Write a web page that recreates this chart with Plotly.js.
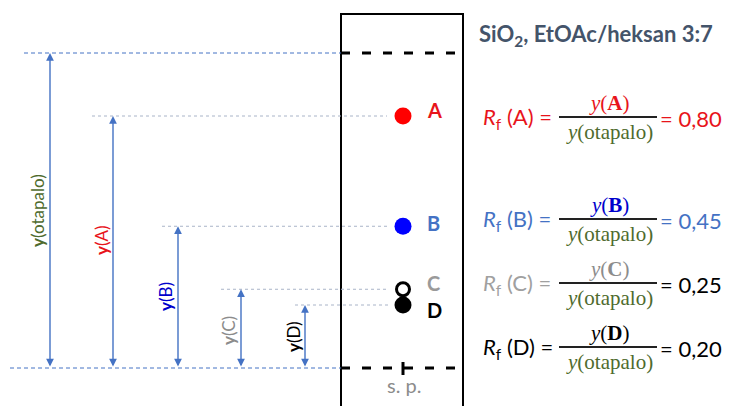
<!DOCTYPE html>
<html>
<head>
<meta charset="utf-8">
<script src="https://cdn.plot.ly/plotly-3.0.1.min.js"></script>
<style>html,body{margin:0;padding:0;background:#fff;}#chart{width:729px;height:406px;}</style>
</head>
<body>
<div id="chart"></div>
<script>
// ---- data ----
const spots = ['A', 'B', 'C', 'D'];
const rfValues = [0.80, 0.45, 0.25, 0.20];
const rfText = ['0,80', '0,45', '0,25', '0,20'];
const frontRf = 1.0;      // solvent front (otapalo)
const startRf = 0.0;      // start line (s. p.)
const titleText = 'SiO<sub>2</sub>, EtOAc/heksan 3:7';
const heightLabels = ['<b>y</b>(A)', '<b>y</b>(B)', '<b>y</b>(C)', '<b>y</b>(D)'];
const frontLabel = '<b>y</b>(otapalo)';
const startLabel = 's. p.';

// ---- styles ----
const spotColors = ['#FF0000', '#0000FF', '#FFFFFF', '#000000'];
const spotLine = ['#FF0000', '#0000FF', '#000000', '#000000'];
const spotLabelColors = ['#E8141B', '#4472C4', '#9A9A9A', '#000000'];
const heightColors = ['#E8141B', '#0000CC', '#8C8C8C', '#000000'];
const rowLabelColors = ['#E8141B', '#4472C4', '#A0A0A0', '#000000'];
const rowValueColors = ['#E8141B', '#4472C4', '#000000', '#000000'];
const numColors = ['#E8141B', '#0000CC', '#8C8C8C', '#000000'];
const green = '#4F6B2E';
const arrowBlue = '#4472C4';
const rowLineY = [117, 219, 283, 347];    // pixel positions (layout)
const arrowX = [113, 178, 241, 305];
const guideStart = [92, 162, 221, 295];
const guideEnd = [387, 387, 389, 389];
const labelY = [240, 297, 331, 337];
const labelX = [101, 165, 228, 293];
const spotLabelDY = [-6, -3, -6, 5];

// y axis in Rf units: Rf 0 at pixel 368, Rf 1 at pixel 53
const y0px = 368, y1px = 53;
const perRf = y0px - y1px;
const yRange = [(y0px - 406) / perRf, y0px / perRf];
const px2rf = p => (y0px - p) / perRf;

const plateX = 403;
const traces = [{
  type: 'scatter', mode: 'markers',
  x: spots.map(() => plateX), y: rfValues,
  marker: {size: spots.map((s, i) => i === 2 ? 13 : 17), color: spotColors, opacity: 1,
           line: {color: spotLine, width: spots.map((s, i) => i === 2 ? 3 : 0)}},
  hoverinfo: 'skip', showlegend: false, xaxis: 'x', yaxis: 'y'
}];

const shapes = [];
const annotations = [];

// plate
shapes.push({type: 'rect', xref: 'x', yref: 'y2', x0: 341, x1: 463, y0: 14, y1: 430,
  line: {color: '#000', width: 2}, fillcolor: 'rgba(0,0,0,0)'});
// front & start dashed lines on plate
[frontRf, startRf].forEach(v => shapes.push({type: 'line', xref: 'x', yref: 'y', x0: 341, x1: 463,
  y0: v, y1: v, line: {color: '#000', width: 3, dash: '9px,12px'}}));
// start tick
shapes.push({type: 'line', xref: 'x', yref: 'y2', x0: plateX, x1: plateX, y0: 362, y1: 375,
  line: {color: '#000', width: 3}});
// blue dashed guides on left
shapes.push({type: 'line', xref: 'x', yref: 'y', x0: 24, x1: 341, y0: frontRf, y1: frontRf,
  line: {color: arrowBlue, width: 1, dash: '4px,3px'}});
shapes.push({type: 'line', xref: 'x', yref: 'y', x0: 10, x1: 341, y0: startRf, y1: startRf,
  line: {color: arrowBlue, width: 1, dash: '4px,3px'}});
// dotted guides at spot heights
rfValues.forEach((v, i) => shapes.push({type: 'line', xref: 'x', yref: 'y', x0: guideStart[i], x1: guideEnd[i],
  y0: v, y1: v, line: {color: '#A9B4C8', width: 1, dash: 'dot'}}));

// arrows
function arrow(x, top) {
  annotations.push({xref: 'x', yref: 'y', x: x, y: top, axref: 'x', ayref: 'y', ax: x, ay: startRf,
    text: '', showarrow: true, arrowhead: 2, startarrowhead: 2, arrowside: 'end+start',
    arrowsize: 1.1, startarrowsize: 1.1, arrowwidth: 1.4, arrowcolor: arrowBlue, standoff: 0, startstandoff: 0});
}
arrow(50, frontRf);
rfValues.forEach((v, i) => arrow(arrowX[i], v));

// vertical labels
annotations.push({xref: 'x', yref: 'y2', x: 37, y: 211, text: frontLabel, textangle: -90, showarrow: false,
  font: {family: 'Lato, sans-serif', size: 17, color: green}});
heightLabels.forEach((t, i) => annotations.push({xref: 'x', yref: 'y2', x: labelX[i], y: labelY[i], text: t,
  textangle: -90, showarrow: false, font: {family: 'Lato, sans-serif', size: 17, color: heightColors[i]}}));

// spot labels
spots.forEach((s, i) => annotations.push({xref: 'x', yref: 'y', x: 425, y: px2rf(y0px - rfValues[i] * perRf + spotLabelDY[i]),
  text: '<b>' + s + '</b>', showarrow: false, xanchor: 'left',
  font: {family: 'Lato, sans-serif', size: 20, color: spotLabelColors[i]}}));

// s. p.
annotations.push({xref: 'x', yref: 'y2', x: plateX + 1, y: 385, text: startLabel, showarrow: false,
  font: {family: 'Lato, sans-serif', size: 20, color: '#8C8C8C'}});

// title
annotations.push({xref: 'x', yref: 'y2', x: 477, y: 35, text: '<b>' + titleText + '</b>', showarrow: false,
  xanchor: 'left', font: {family: 'Lato, sans-serif', size: 22, color: '#44546A'}});

// formulas
spots.forEach((s, i) => {
  const ly = rowLineY[i];
  annotations.push({xref: 'x', yref: 'y2', x: 481, y: ly + 1, xanchor: 'left', showarrow: false,
    text: '<i>R</i><sub>f</sub> (' + s + ') =', font: {family: 'Lato, sans-serif', size: 22, color: rowLabelColors[i]}});
  annotations.push({xref: 'x', yref: 'y2', x: 609, y: ly - 14, showarrow: false,
    text: '<i>y</i>(<b>' + s + '</b>)', font: {family: 'Liberation Serif, serif', size: 21, color: numColors[i]}});
  annotations.push({xref: 'x', yref: 'y2', x: 609, y: ly + 15, showarrow: false,
    text: '<i>y</i>(otapalo)', font: {family: 'Liberation Serif, serif', size: 21, color: green}});
  shapes.push({type: 'line', xref: 'x', yref: 'y2', x0: 559, x1: 657, y0: ly, y1: ly,
    line: {color: '#222', width: 2}});
  annotations.push({xref: 'x', yref: 'y2', x: 658, y: ly + 1, xanchor: 'left', showarrow: false,
    text: '= ' + rfText[i], font: {family: 'Lato, sans-serif', size: 22, color: rowValueColors[i]}});
});

const layout = {
  width: 729, height: 406, margin: {l: 0, r: 0, t: 0, b: 0},
  paper_bgcolor: '#fff', plot_bgcolor: '#fff', showlegend: false,
  xaxis: {range: [0, 729], visible: false, fixedrange: true},
  yaxis: {range: yRange, visible: false, fixedrange: true},
  yaxis2: {range: [406, 0], visible: false, overlaying: 'y', fixedrange: true},
  shapes: shapes, annotations: annotations
};
Plotly.newPlot('chart', traces, layout, {staticPlot: true, displayModeBar: false});
</script>
</body>
</html>
